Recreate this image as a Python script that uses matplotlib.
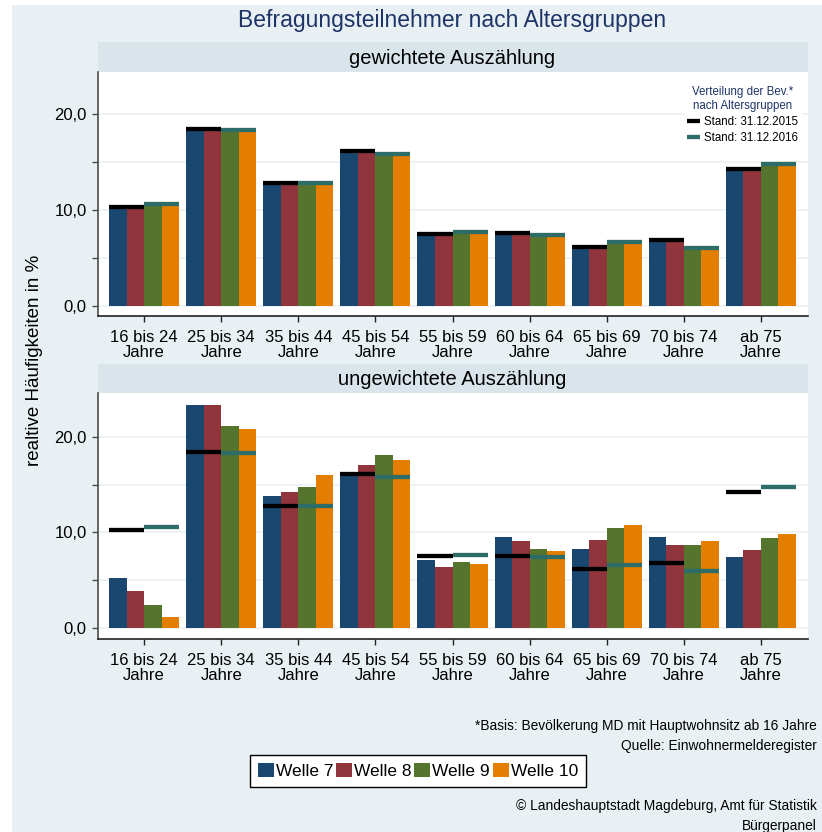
import numpy as np
import matplotlib
matplotlib.use("Agg")
import matplotlib.pyplot as plt
from matplotlib.patches import Rectangle, Patch
from matplotlib.lines import Line2D

plt.rcParams['font.family'] = ['Liberation Sans', 'DejaVu Sans']

# Altersgruppen
gruppen = ["16 bis 24\nJahre", "25 bis 34\nJahre", "35 bis 44\nJahre", "45 bis 54\nJahre",
           "55 bis 59\nJahre", "60 bis 64\nJahre", "65 bis 69\nJahre", "70 bis 74\nJahre",
           "ab 75\nJahre"]
wellen = ["Welle 7", "Welle 8", "Welle 9", "Welle 10"]

# Bevoelkerung (Referenzlinien)
bev_2015 = [10.3, 18.4, 12.75, 16.15, 7.5, 7.55, 6.15, 6.85, 14.25]
bev_2016 = [10.55, 18.35, 12.75, 15.8, 7.65, 7.4, 6.6, 6.0, 14.75]

# gewichtete Auszaehlung
gew_w7 = [10.3, 18.4, 12.75, 16.15, 7.5, 7.55, 6.15, 6.85, 14.25]
gew_w8 = [10.3, 18.4, 12.75, 16.15, 7.5, 7.55, 6.15, 6.85, 14.25]
gew_w9 = [10.55, 18.35, 12.75, 15.8, 7.65, 7.4, 6.6, 6.0, 14.75]
gew_w10 = [10.55, 18.35, 12.75, 15.8, 7.65, 7.4, 6.6, 6.0, 14.75]

# ungewichtete Auszaehlung
ungew_w7 = [5.2, 23.3, 13.8, 16.0, 7.1, 9.5, 8.25, 9.5, 7.4]
ungew_w8 = [3.85, 23.3, 14.2, 17.05, 6.4, 9.1, 9.2, 8.7, 8.15]
ungew_w9 = [2.4, 21.1, 14.75, 18.1, 6.9, 8.25, 10.45, 8.7, 9.4]
ungew_w10 = [1.15, 20.8, 16.0, 17.55, 6.7, 8.05, 10.75, 9.1, 9.85]

farben = ["#1a476f", "#90353b", "#55752f", "#e37e00"]
c_2015 = "black"
c_2016 = "#2e6d67"
bg = "#e8f0f3"
strip_c = "#d9e5eb"
navy = "#1e3468"

W, H = 822, 832
fig = plt.figure(figsize=(W / 100, H / 100), dpi=100, facecolor="white")

def box(x0, y0, x1, y1):
    # pixel box (top-left origin) -> figure rect
    return [x0 / W, 1 - y1 / H, (x1 - x0) / W, (y1 - y0) / H]

fig.patches.append(Rectangle((12 / W, 0), 1, 1 - 5 / H, transform=fig.transFigure,
                             facecolor=bg, edgecolor="none", zorder=-10))

fig.text(452 / W, 1 - 20 / H, "Befragungsteilnehmer nach Altersgruppen",
         ha="center", va="center", fontsize=16.5, color=navy)

x = np.arange(len(gruppen))
bw = 0.909 / 4
offs = (np.arange(4) - 1.5) * bw

def panel(top, bottom, stop, sbottom, titel, daten, ylim):
    sx = fig.add_axes(box(97.5, stop, 807.5, sbottom))
    sx.set_facecolor(strip_c)
    sx.set_xticks([])
    sx.set_yticks([])
    for s in sx.spines.values():
        s.set_visible(False)
    sx.text(0.5, 0.45, titel, ha="center", va="center", fontsize=14.5, transform=sx.transAxes)

    ax = fig.add_axes(box(97.5, top, 807.5, bottom))
    ax.set_facecolor("white")
    for i, werte in enumerate(daten):
        ax.bar(x + offs[i], werte, width=bw, color=farben[i], zorder=2, linewidth=0)
    for j in range(len(gruppen)):
        ax.plot([x[j] - 2 * bw, x[j]], [bev_2015[j]] * 2, color=c_2015, lw=3.1,
                solid_capstyle="butt", zorder=3)
        ax.plot([x[j], x[j] + 2 * bw], [bev_2016[j]] * 2, color=c_2016, lw=3.1,
                solid_capstyle="butt", zorder=3)
    ax.set_xlim(-0.604, 8.604)
    ax.set_ylim(*ylim)
    ax.set_yticks([0, 5, 10, 15, 20])
    ax.set_yticklabels(["0,0", "", "10,0", "", "20,0"], fontsize=12)
    ax.set_xticks(x)
    ax.set_xticklabels(gruppen, fontsize=12, linespacing=1.0)
    ax.grid(axis="y", color="#eaf1f2", lw=1.2, zorder=0)
    ax.set_axisbelow(True)
    ax.spines["top"].set_visible(False)
    ax.spines["right"].set_visible(False)
    ax.spines["left"].set_color("#4a4a4a")
    ax.spines["bottom"].set_color("#222222")
    ax.spines["left"].set_linewidth(1.2)
    ax.spines["bottom"].set_linewidth(1.2)
    ax.tick_params(axis="y", length=4.3, width=1, color="#4a4a4a", pad=3.4)
    ax.tick_params(axis="x", length=4.3, width=1, color="#222222", pad=6)
    return ax

ax1 = panel(72, 316, 42, 72, "gewichtete Auszählung",
            [gew_w7, gew_w8, gew_w9, gew_w10], (-1.09, 24.35))
ax2 = panel(393, 639, 364, 393, "ungewichtete Auszählung",
            [ungew_w7, ungew_w8, ungew_w9, ungew_w10], (-1.15, 24.6))

# Referenz-Legende im oberen Panel
ref_h = [Line2D([], [], color=c_2015, lw=3.1, solid_capstyle="butt"),
         Line2D([], [], color=c_2016, lw=3.1, solid_capstyle="butt")]
leg1 = ax1.legend(ref_h, ["Stand: 31.12.2015", "Stand: 31.12.2016"],
                  title="Verteilung der Bev.*\nnach Altersgruppen", loc="upper right",
                  bbox_to_anchor=(1.0, 0.98), fontsize=8.3, title_fontsize=8.3,
                  frameon=True, facecolor="white", edgecolor="none", framealpha=1,
                  fancybox=False, handlelength=1.1, handletextpad=0.4,
                  borderpad=0.3, labelspacing=0.35)
leg1.get_title().set_color(navy)
leg1.get_title().set_multialignment("center")
leg1.set_zorder(5)

fig.text(35 / W, 1 - 360 / H, "realtive Häufigkeiten in %", rotation=90,
         ha="center", va="center", fontsize=13.5)

handles = [Patch(facecolor=c, edgecolor="none") for c in farben]
fig.legend(handles, wellen, loc="center", bbox_to_anchor=(418 / W, 1 - 771 / H),
           ncol=4, fontsize=12.5, frameon=True, fancybox=False, edgecolor="black",
           facecolor="white", framealpha=1, handlelength=0.92, handleheight=0.86,
           handletextpad=0.12, columnspacing=0.15, borderpad=0.45)

notes = [("*Basis: Bevölkerung MD mit Hauptwohnsitz ab 16 Jahre", 726),
         ("Quelle: Einwohnermelderegister", 746),
         ("© Landeshauptstadt Magdeburg, Amt für Statistik", 806),
         ("Bürgerpanel", 826)]
for txt, yy in notes:
    fig.text(817 / W, 1 - yy / H, txt, ha="right", va="center", fontsize=9.9)

fig.savefig("out.png", dpi=100, facecolor=fig.get_facecolor())
